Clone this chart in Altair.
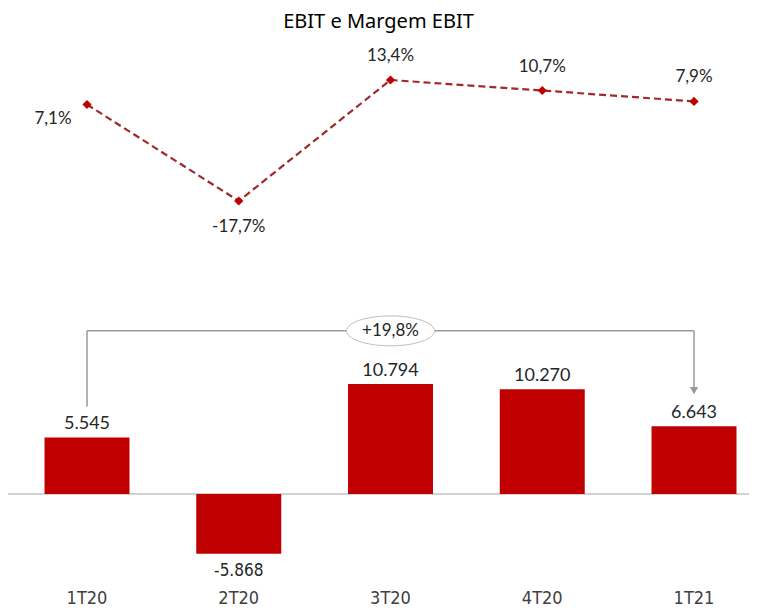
import altair as alt
import pandas as pd

categories = ["1T20", "2T20", "3T20", "4T20", "1T21"]
ebit = [5545, -5868, 10794, 10270, 6643]
margin = [7.1, -17.7, 13.4, 10.7, 7.9]


def fmt_int(v):
    return f"{v:,}".replace(",", ".")


def fmt_pct(v):
    return f"{v:.1f}%".replace(".", ",")


df = pd.DataFrame({
    "cat": categories,
    "ebit": ebit,
    "margin": margin,
    "ebit_label": [fmt_int(v) for v in ebit],
    "margin_label": [fmt_pct(v) for v in margin],
    "idx": list(range(len(categories))),
})

growth = ebit[-1] / ebit[0] - 1
ann = pd.DataFrame({
    "x0": [categories[0]],
    "x1": [categories[-1]],
    "xm": [categories[2]],
    "start": [ebit[0] + 3000],
    "level": [max(ebit) + 5200],
    "end": [ebit[-1] + 3600],
    "arrow": [ebit[-1] + 3500],
    "label": ["+" + fmt_pct(growth * 100)],
})
zero = pd.DataFrame({"y": [0]})

RED = "#C00000"
LINE = "#A02A2A"
GRAY = "#9a9a9a"
TXT = "#262626"
NARROW = "DejaVu Sans Condensed, Roboto, sans-serif"

xscale = alt.Scale(type="band", domain=categories, paddingInner=0.44,
                   paddingOuter=0.1615, align=0.745)
bar_dom = alt.Scale(domain=[-8922, 44510], nice=False, zero=False)
line_dom = alt.Scale(domain=[-116.4, 23.68], nice=False, zero=False)

X = alt.X("cat:N", sort=categories, scale=xscale, title=None,
          axis=alt.Axis(domain=False, ticks=False, labelPadding=4,
                        labelFont=NARROW, labelFontSize=18,
                        labelColor="#404040", labelAngle=0))

base = alt.Chart(df)

bars = base.mark_bar(color=RED).encode(
    x=X, y=alt.Y("ebit:Q", scale=bar_dom, axis=None))

lab_pos = base.transform_filter("datum.ebit >= 0").mark_text(
    font="Lato", fontSize=18, color=TXT, dy=-13, baseline="middle").encode(
    x=X, y=alt.Y("ebit:Q", scale=bar_dom, axis=None), text="ebit_label:N")

lab_neg = base.transform_filter("datum.ebit < 0").mark_text(
    font=NARROW, fontSize=17, color=TXT, dy=17,
    baseline="middle").encode(
    x=X, y=alt.Y("ebit:Q", scale=bar_dom, axis=None), text="ebit_label:N")

zero_rule = alt.Chart(zero).mark_rule(color="#a6a6a6", strokeWidth=1).encode(
    y=alt.Y("y:Q", scale=bar_dom, axis=None))

a = alt.Chart(ann)
left_v = a.mark_rule(color=GRAY, strokeWidth=1.5).encode(
    x=alt.X("x0:N", sort=categories, scale=xscale, title=None),
    y=alt.Y("start:Q", scale=bar_dom, axis=None), y2="level:Q")
horiz = a.mark_rule(color=GRAY, strokeWidth=1.5).encode(
    x=alt.X("x0:N", sort=categories, scale=xscale, title=None), x2="x1:N",
    y=alt.Y("level:Q", scale=bar_dom, axis=None))
right_v = a.mark_rule(color=GRAY, strokeWidth=1.5).encode(
    x=alt.X("x1:N", sort=categories, scale=xscale, title=None),
    y=alt.Y("level:Q", scale=bar_dom, axis=None), y2="end:Q")
arrow = a.mark_point(shape="triangle-down", filled=True, color=GRAY,
                     size=70, opacity=1).encode(
    x=alt.X("x1:N", sort=categories, scale=xscale, title=None),
    y=alt.Y("arrow:Q", scale=bar_dom, axis=None))
ellipse = a.mark_point(
    shape="M -1 0 A 1 0.34 0 1 1 1 0 A 1 0.34 0 1 1 -1 0 Z",
    size=7744, fill="white", fillOpacity=1, stroke="#bfbfbf",
    strokeWidth=1, opacity=1).encode(
    x=alt.X("xm:N", sort=categories, scale=xscale, title=None),
    y=alt.Y("level:Q", scale=bar_dom, axis=None))
glabel = a.mark_text(font="Lato", fontSize=17, color=TXT,
                     baseline="middle").encode(
    x=alt.X("xm:N", sort=categories, scale=xscale, title=None),
    y=alt.Y("level:Q", scale=bar_dom, axis=None), text="label:N")

line = base.mark_line(color=LINE, strokeDash=[7, 4], strokeWidth=2.2).encode(
    x=X, y=alt.Y("margin:Q", scale=line_dom, axis=None), order="idx:Q")
pts = base.mark_point(shape="diamond", filled=True, color=RED, size=85,
                      opacity=1).encode(
    x=X, y=alt.Y("margin:Q", scale=line_dom, axis=None))

ml = dict(font="Lato", fontSize=17, color=TXT, baseline="middle")
m_first = base.transform_filter("datum.idx == 0").mark_text(
    dx=-34, dy=14, **ml).encode(
    x=X, y=alt.Y("margin:Q", scale=line_dom, axis=None), text="margin_label:N")
m_second = base.transform_filter("datum.idx == 1").mark_text(
    dy=26, **ml).encode(
    x=X, y=alt.Y("margin:Q", scale=line_dom, axis=None), text="margin_label:N")
m_rest = base.transform_filter("datum.idx >= 2").mark_text(
    dy=-24, **ml).encode(
    x=X, y=alt.Y("margin:Q", scale=line_dom, axis=None), text="margin_label:N")

chart = alt.layer(
    zero_rule, bars, lab_pos, lab_neg,
    left_v, horiz, right_v, arrow, ellipse, glabel,
    line, pts, m_first, m_second, m_rest,
).resolve_scale(y="independent").properties(
    width=741, height=545,
    autosize=alt.AutoSizeParams(type="none"),
    padding={"left": 0, "top": 32, "right": 0, "bottom": 25},
    title=alt.TitleParams("EBIT e Margem EBIT", font="Noto Sans",
                          fontSize=20, fontWeight="normal", color="#000000",
                          anchor="middle", offset=8),
).configure_view(stroke=None)

chart.save("out.html", embed_options={"renderer": "svg", "actions": False})
